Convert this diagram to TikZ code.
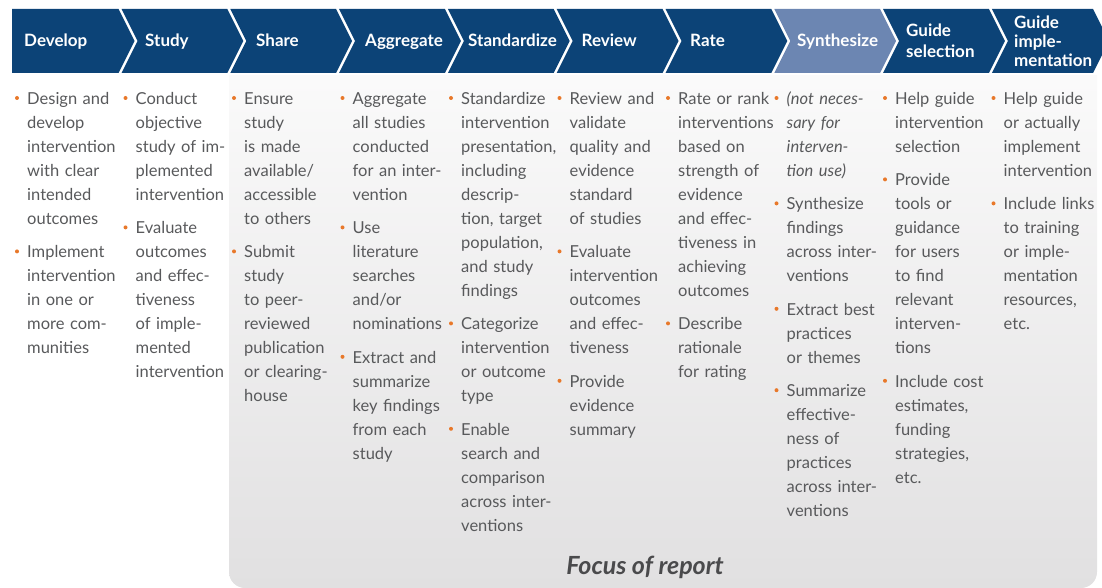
\documentclass[tikz,border=0pt]{standalone}
\usepackage{fontspec}
\setmainfont{Lato}
\definecolor{navy}{HTML}{0C4377}
\definecolor{synth}{HTML}{6C86B2}
\definecolor{bodytxt}{HTML}{58595B}
\definecolor{dotc}{HTML}{E8782A}
\definecolor{focusc}{HTML}{4A4A4C}
\definecolor{grayb}{HTML}{E1E0E1}
\definecolor{graytop}{HTML}{FCFCFC}
\tikzset{
 hdr/.style={anchor=west, inner sep=0pt, text=white, font=\fontsize{17}{19}\selectfont\bfseries, align=left},
 hdrone/.style={hdr, anchor=base west},
 itm/.style={anchor=north west, inner sep=0pt, text=bodytxt, font=\fontsize{16.5}{24}\selectfont, align=left, text width=106pt},
 bdot/.style={fill=dotc},
 focus/.style={inner sep=0pt, text=focusc, font=\fontsize{25}{27}\selectfont\bfseries\itshape}
}
\newcommand\mychev[3]{\fill[#3] (#1,9) -- (#2,9) -- ++(16,32) -- (#2,73) -- (#1,73) -- ++(16,-32) -- cycle;}
\newcommand\bul[3]{\node[itm] (#1) at #2 {\strut #3\strut};
  \fill[bdot] ([xshift=-10pt,yshift=-10.8pt]#1.north west) circle (2pt);}
\begin{document}
\begin{tikzpicture}[x=1pt,y=-1pt]
\useasboundingbox (0,0) rectangle (1102,588);
% gray focus area
\begin{scope}
\clip (229,76) rectangle (1097,588);
\shade[top color=graytop, bottom color=grayb, rounded corners=16pt] (229,40) rectangle (1097,588);
\end{scope}
% chevrons
\fill[navy] (12,9) -- (118.5,9) -- ++(16,32) -- (118.5,73) -- (12,73) -- cycle;
\mychev{121.5}{227.3}{navy}
\mychev{230.3}{336.1}{navy}
\mychev{339.1}{444.9}{navy}
\mychev{447.9}{553.7}{navy}
\mychev{556.7}{662.5}{navy}
\mychev{665.5}{771.3}{navy}
\mychev{774.3}{880.1}{synth}
\mychev{883.1}{988.9}{navy}
\mychev{991.9}{1093}{navy}
% header labels
\node[hdrone] (h0) at (24,47) {Develop};
\node[hdrone] (h1) at (145,47) {Study};
\node[hdrone] (h2) at (256,47) {Share};
\node[hdrone] (h3) at (365,47) {Aggregate};
\node[hdrone] (h4) at (468,47) {Standardize};
\node[hdrone] (h5) at (581.5,47) {Review};
\node[hdrone] (h6) at (690,47) {Rate};
\node[hdrone] (h7) at (797,47) {Synthesize};
\node[hdr, font=\fontsize{17}{21}\selectfont\bfseries] (h8) at (906,41) {Guide\\selection};
\node[hdr] (h9) at (1014,41) {Guide\\imple-\\mentation};
% column 0
\bul{c0a}{(27,87.2)}{Design and\\develop\\intervention\\with clear\\intended\\outcomes}
\bul{c0b}{([yshift=-9pt]c0a.south west)}{Implement\\intervention\\in one or\\more com-\\munities}
% column 1
\bul{c1a}{(135.5,87.2)}{Conduct\\objective\\study of im-\\plemented\\intervention}
\bul{c1b}{([yshift=-9pt]c1a.south west)}{Evaluate\\outcomes\\and effec-\\tiveness\\of imple-\\mented\\intervention}
% column 2
\bul{c2a}{(244,87.2)}{Ensure\\study\\is made\\available/\\accessible\\to others}
\bul{c2b}{([yshift=-9pt]c2a.south west)}{Submit\\study\\to peer-\\reviewed\\publication\\or clearing-\\house}
% column 3
\bul{c3a}{(352.5,87.2)}{Aggregate\\all studies\\conducted\\for an inter-\\vention}
\bul{c3b}{([yshift=-9pt]c3a.south west)}{Use\\literature\\searches\\and/or\\nominations}
\bul{c3c}{([yshift=-9pt]c3b.south west)}{Extract and\\summarize\\key findings\\from each\\study}
% column 4
\bul{c4a}{(461,87.2)}{Standardize\\intervention\\presentation,\\including\\descrip-\\tion, target\\population,\\and study\\findings}
\bul{c4b}{([yshift=-9pt]c4a.south west)}{Categorize\\intervention\\or outcome\\type}
\bul{c4c}{([yshift=-9pt]c4b.south west)}{Enable\\search and\\comparison\\across inter-\\ventions}
% column 5
\bul{c5a}{(569.5,87.2)}{Review and\\validate\\quality and\\evidence\\standard\\of studies}
\bul{c5b}{([yshift=-9pt]c5a.south west)}{Evaluate\\intervention\\outcomes\\and effec-\\tiveness}
\bul{c5c}{([yshift=-9pt]c5b.south west)}{Provide\\evidence\\summary}
% column 6
\bul{c6a}{(678,87.2)}{Rate or rank\\interventions\\based on\\strength of\\evidence\\and effec-\\tiveness in\\achieving\\outcomes}
\bul{c6b}{([yshift=-9pt]c6a.south west)}{Describe\\rationale\\for rating}
% column 7
\bul{c7a}{(786.5,87.2)}{\itshape (not neces-\\sary for\\interven-\\tion use)}
\bul{c7b}{([yshift=-9pt]c7a.south west)}{Synthesize\\findings\\across inter-\\ventions}
\bul{c7c}{([yshift=-9pt]c7b.south west)}{Extract best\\practices\\or themes}
\bul{c7d}{([yshift=-9pt]c7c.south west)}{Summarize\\effective-\\ness of\\practices\\across inter-\\ventions}
% column 8
\bul{c8a}{(895,87.2)}{Help guide\\intervention\\selection}
\bul{c8b}{([yshift=-9pt]c8a.south west)}{Provide\\tools or\\guidance\\for users\\to find\\relevant\\interven-\\tions}
\bul{c8c}{([yshift=-9pt]c8b.south west)}{Include cost\\estimates,\\funding\\strategies,\\etc.}
% column 9
\bul{c9a}{(1003.5,87.2)}{Help guide\\or actually\\implement\\intervention}
\bul{c9b}{([yshift=-9pt]c9a.south west)}{Include links\\to training\\or imple-\\mentation\\resources,\\etc.}
% focus label
\node[focus] (focus) at (645,567) {Focus of report};
\end{tikzpicture}
\end{document}
